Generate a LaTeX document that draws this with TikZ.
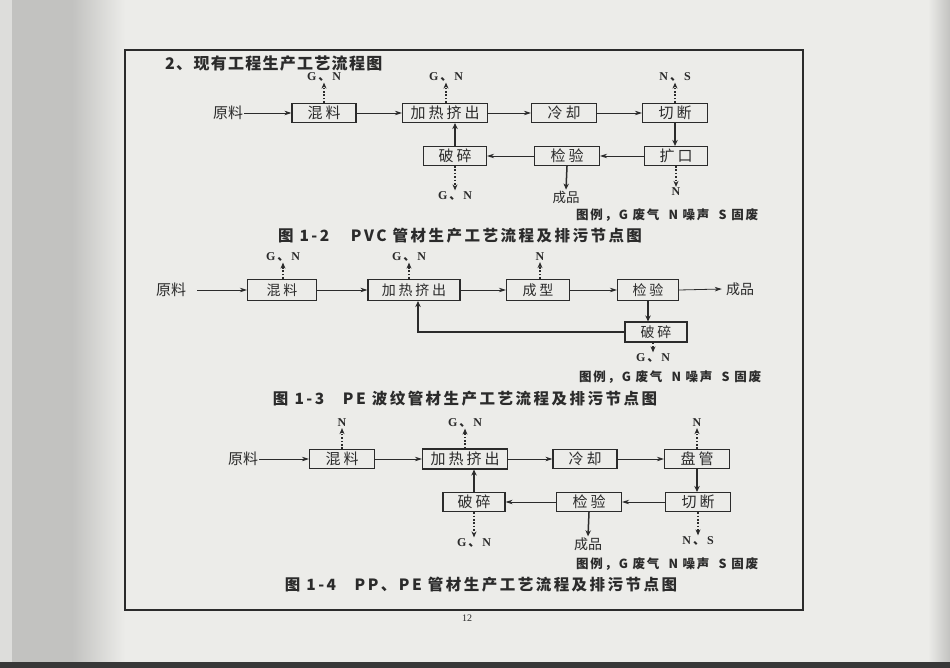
\documentclass[tikz,border=0pt]{standalone}
\usepackage{fontspec}
\setmainfont{Liberation Serif}
\newfontfamily\cjk{Noto Sans CJK SC}
\newfontfamily\cjkbox{Noto Sans CJK SC}[LetterSpace=20]
\newfontfamily\cjkcap{Noto Sans CJK SC}[LetterSpace=16]
\newfontfamily\cjkleg{Noto Sans CJK SC}[LetterSpace=14]
\usetikzlibrary{arrows.meta}
\definecolor{ink}{HTML}{2B2B2B}
\definecolor{paper}{HTML}{ECECE9}
\definecolor{sidegray}{HTML}{C2C2C0}
\newcommand\bxfont{\cjkbox\fontsize{15}{15}\selectfont}
\newcommand\bxfontsm{\cjkbox\fontsize{14}{14}\selectfont}
\newcommand\lbfont{\bfseries\fontsize{12}{12}\selectfont}
\newcommand\cjfont{\cjk\fontsize{15}{15}\selectfont}
\newcommand\capfont{\cjkcap\bfseries\fontsize{15.5}{15.5}\selectfont}
\newcommand\ttlfont{\cjk\bfseries\addfontfeature{LetterSpace=8}\fontsize{16}{16}\selectfont}
\newcommand\legfont{\cjkleg\bfseries\fontsize{12.5}{12.5}\selectfont}
\newcommand\gnsep{{\cjk\fontsize{12}{12}\selectfont 、}}
\begin{document}
\begin{tikzpicture}[x=1pt,y=-1pt,
  box/.style={draw=ink, line width=1.2pt, minimum height=19pt, inner sep=0pt, text=ink, font=\bxfont},
  boxs/.style={box, minimum height=21pt, font=\bxfontsm},
  lbl/.style={inner sep=1pt, text=ink, font=\lbfont},
  cj/.style={inner sep=1pt, text=ink, font=\cjfont},
  leg/.style={inner sep=0pt, text=ink, font=\legfont},
  capt/.style={inner sep=0pt, text=ink, font=\capfont},
  flow/.style={draw=ink, line width=0.8pt, -{Stealth[length=7pt,width=4.5pt]}},
  emit/.style={draw=ink, line width=1.3pt, dash pattern=on 1.6pt off 1.8pt, -{Stealth[length=6pt,width=5pt]}},
  drop/.style={draw=ink, line width=1.5pt, -{Stealth[length=6pt,width=5.5pt]}}]

% ---------- paper background ----------
\fill[paper] (0,0) rectangle (950,668);
\fill[sidegray] (12,0) rectangle (72,662);
\fill[left color=sidegray, right color=paper] (72,0) rectangle (125,662);
\fill[color=paper!65!sidegray] (0,0) rectangle (12,662);
\fill[left color=paper, right color=sidegray] (928,0) rectangle (950,662);
\fill[black!78] (0,662) rectangle (950,668);
\useasboundingbox (0,0) rectangle (950,668);

% ---------- frame ----------
\draw[ink, line width=1.2pt] (125,50) rectangle (803,610);

\node[inner sep=0pt, text=ink, font=\ttlfont, anchor=west] (title) at (165,63) {2、现有工程生产工艺流程图};

% ================= Figure 1-2 =================
\node[cj] (yl1) at (228,113) {原料};
\node[box, minimum width=64pt] (m1) at (324,113) {混料};
\node[box, minimum width=85pt] (h1) at (445,113) {加热挤出};
\node[box, minimum width=65pt] (c1) at (564,113) {冷却};
\node[box, minimum width=65pt] (q1) at (675,113) {切断};
\node[box, minimum width=63pt] (k1) at (676,156) {扩口};
\node[box, minimum width=65pt] (j1) at (567,156) {检验};
\node[box, minimum width=63pt] (p1) at (455,156) {破碎};

\node[lbl] (e1a) at (324,77) {G\,\gnsep\,N};
\node[lbl] (e1b) at (446,77) {G\,\gnsep\,N};
\node[lbl] (e1c) at (675,77) {N\,\gnsep\,S};
\node[lbl] (e1d) at (676,192) {N};
\node[cj, font=\cjk\fontsize{13.5}{13.5}\selectfont] (cp1) at (566,197) {成品};
\node[lbl] (e1e) at (455,196) {G\,\gnsep\,N};

\draw[flow] (yl1.east) -- (m1.west);
\draw[flow] (m1.east) -- (h1.west);
\draw[flow] (h1.east) -- (c1.west);
\draw[flow] (c1.east) -- (q1.west);
\draw[drop] (q1.south) -- (q1.south |- k1.north);
\draw[flow] (k1.west) -- (j1.east);
\draw[flow] (j1.west) -- (p1.east);
\draw[drop] (p1.north) -- (p1.north |- h1.south);
\draw[emit] (m1.north) -- (e1a.south);
\draw[emit] (h1.north -| e1b.south) -- (e1b.south);
\draw[emit] (q1.north) -- (e1c.south);
\draw[emit] (k1.south) -- (e1d.north);
\draw[drop] (j1.south) -- (cp1.north);
\draw[emit] (p1.south) -- (e1e.north);

\node[leg] (lg1) at (667,215) {图例，G 废气\ \ N 噪声\ \ S 固废};
\node[capt] (cap1) at (460,236) {图 1-2\hspace{1.4em}PVC 管材生产工艺流程及排污节点图};

% ================= Figure 1-3 =================
\node[cj] (yl2) at (171,290) {原料};
\node[boxs, minimum width=69pt] (m2) at (282,290) {混料};
\node[boxs, minimum width=92pt] (h2) at (414,290) {加热挤出};
\node[boxs, minimum width=63pt] (x2) at (538,290) {成型};
\node[boxs, minimum width=61pt] (j2) at (648,290) {检验};
\node[cj, font=\cjk\fontsize{14}{14}\selectfont] (cp2) at (740,289) {成品};
\node[boxs, minimum width=62pt, minimum height=20pt] (p2) at (656,332) {破碎};

\node[lbl] (e2a) at (283,257) {G\,\gnsep\,N};
\node[lbl] (e2b) at (409,257) {G\,\gnsep\,N};
\node[lbl] (e2c) at (540,257) {N};
\node[lbl] (e2d) at (653,358) {G\,\gnsep\,N};

\draw[flow] ([xshift=10pt]yl2.east) -- (m2.west);
\draw[flow] (m2.east) -- (h2.west);
\draw[flow] (h2.east) -- (x2.west);
\draw[flow] (x2.east) -- (j2.west);
\draw[flow] (j2.east) -- ([xshift=-3pt]cp2.west);
\draw[drop] (j2.south) -- (j2.south |- p2.north);
\draw[drop, line width=1.1pt] (p2.west) -| ([xshift=4pt]h2.south);
\draw[emit] (m2.north -| e2a.south) -- (e2a.south);
\draw[emit] (h2.north -| e2b.south) -- (e2b.south);
\draw[emit] (x2.north -| e2c.south) -- (e2c.south);
\draw[emit] (p2.south -| e2d.north) -- (e2d.north);

\node[leg] (lg2) at (670,377) {图例，G 废气\ \ N 噪声\ \ S 固废};
\node[capt] (cap2) at (465,399) {图 1-3\hspace{1.2em}PE 波纹管材生产工艺流程及排污节点图};

% ================= Figure 1-4 =================
\node[cj] (yl3) at (243,459) {原料};
\node[box, minimum width=65pt] (m3) at (342,459) {混料};
\node[box, minimum width=85pt, minimum height=20pt] (h3) at (465,459) {加热挤出};
\node[box, minimum width=64pt] (c3) at (585,459) {冷却};
\node[box, minimum width=65pt] (g3) at (697,459) {盘管};
\node[box, minimum width=65pt] (q3) at (698,502) {切断};
\node[box, minimum width=65pt] (j3) at (589,502) {检验};
\node[box, minimum width=62pt] (p3) at (474,502) {破碎};

\node[lbl] (e3a) at (342,423) {N};
\node[lbl] (e3b) at (465,423) {G\,\gnsep\,N};
\node[lbl] (e3c) at (697,423) {N};
\node[lbl] (e3d) at (474,543) {G\,\gnsep\,N};
\node[cj, font=\cjk\fontsize{14}{14}\selectfont] (cp3) at (588,544) {成品};
\node[lbl] (e3e) at (698,541) {N\,\gnsep\,S};

\draw[flow] (yl3.east) -- (m3.west);
\draw[flow] (m3.east) -- (h3.west);
\draw[flow] (h3.east) -- (c3.west);
\draw[flow] (c3.east) -- (g3.west);
\draw[drop] (g3.south) -- (g3.south |- q3.north);
\draw[flow] (q3.west) -- (j3.east);
\draw[flow] (j3.west) -- (p3.east);
\draw[drop] (p3.north) -- (p3.north |- h3.south);
\draw[emit] (m3.north) -- (e3a.south);
\draw[emit] (h3.north) -- (e3b.south);
\draw[emit] (g3.north) -- (e3c.south);
\draw[emit] (p3.south) -- (e3d.north);
\draw[drop] (j3.south) -- (cp3.north);
\draw[emit] (q3.south) -- (e3e.north);

\node[leg] (lg3) at (667,564) {图例，G 废气\ \ N 噪声\ \ S 固废};
\node[capt] (cap3) at (481,585) {图 1-4\hspace{1.2em}PP、PE 管材生产工艺流程及排污节点图};

\node[lbl, font=\fontsize{10}{10}\selectfont] (pg) at (467,618) {12};
\end{tikzpicture}
\end{document}
